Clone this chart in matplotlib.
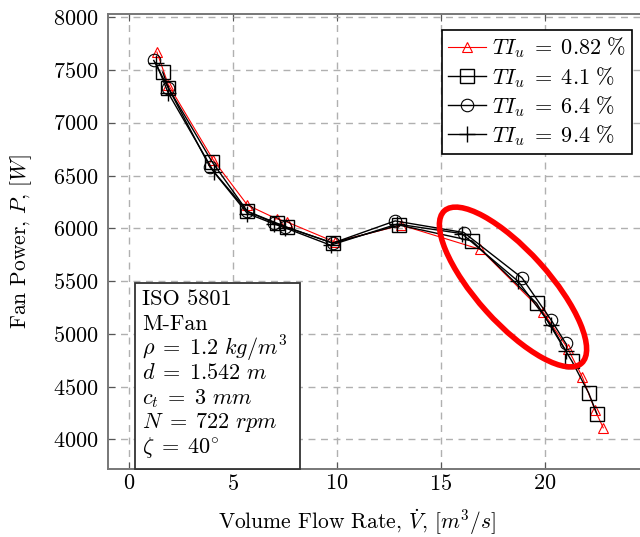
import matplotlib
matplotlib.use('Agg')
import matplotlib.pyplot as plt
from matplotlib.patches import Ellipse, Rectangle

plt.rcParams['font.family'] = 'serif'
plt.rcParams['font.serif'] = ['cmr10', 'DejaVu Serif']
plt.rcParams['mathtext.fontset'] = 'cm'
plt.rcParams['axes.formatter.use_mathtext'] = True

# TI_u = 0.82 %
q_082 = [1.35, 1.9, 4.05, 5.7, 7.1, 7.6, 9.9, 13.1, 16.9, 19.9, 21.1, 21.8, 22.4, 22.8]
p_082 = [7670, 7360, 6650, 6220, 6090, 6060, 5870, 6030, 5800, 5210, 4860, 4590, 4280, 4110]
# TI_u = 4.1 %
q_41 = [1.63, 1.9, 4.0, 5.7, 7.1, 7.6, 9.8, 13.0, 16.5, 19.6, 21.3, 22.1, 22.5]
p_41 = [7480, 7330, 6630, 6160, 6050, 6010, 5860, 6030, 5880, 5290, 4740, 4440, 4240]
# TI_u = 6.4 %
q_64 = [1.2, 1.9, 3.9, 5.7, 7.0, 7.5, 9.8, 12.8, 16.1, 18.9, 20.3, 21.0]
p_64 = [7590, 7330, 6580, 6160, 6050, 6015, 5860, 6070, 5960, 5530, 5130, 4910]
# TI_u = 9.4 %
q_94 = [1.3, 1.9, 4.1, 5.7, 7.0, 7.5, 9.7, 12.9, 16.0, 18.7, 20.3, 21.0]
p_94 = [7570, 7280, 6530, 6140, 6040, 6005, 5840, 6040, 5950, 5500, 5080, 4840]

info_lines = ['ISO 5801', 'M-Fan', r'$\rho\;=\;1.2\ kg/m^3$', r'$d\;=\;1.542\ m$',
              r'$c_t\;=\;3\ mm$', r'$N\;=\;722\ rpm$', r'$\zeta\;=\;40^{\circ}$']

fig = plt.figure(figsize=(6.4, 5.37), dpi=100)
ax = fig.add_axes([108 / 640, 1 - 469 / 537, 541 / 640, 455 / 537])

ax.plot(q_082, p_082, color='red', lw=0.8, marker='^', ms=7, mfc='none', mec='red', mew=0.8,
        label=r'$TI_u\;=\;0.82\ \%$')
ax.plot(q_41, p_41, color='black', lw=1.0, marker='s', ms=10, mfc='none', mew=1.0,
        label=r'$TI_u\;=\;4.1\ \%$')
ax.plot(q_64, p_64, color='black', lw=1.0, marker='o', ms=9, mfc='none', mew=0.8,
        label=r'$TI_u\;=\;6.4\ \%$')
ax.plot(q_94, p_94, color='black', lw=1.0, marker='+', ms=11, mew=1.0,
        label=r'$TI_u\;=\;9.4\ \%$')

ax.set_xlim(-1, 25)
ax.set_ylim(3720, 8030)
ax.set_xticks([0, 5, 10, 15, 20])
ax.set_yticks(range(4000, 8001, 500))
ax.tick_params(direction='in', top=True, right=True, labelsize=16, length=5, color='#555555')
ax.tick_params(axis='y', pad=7)
ax.grid(True, ls=(0, (5, 4)), color='#b0b0b0', lw=1.0)
for s in ax.spines.values():
    s.set_color('#777777')
    s.set_linewidth(1.4)

ax.set_xlabel(r'Volume Flow Rate, $\dot{V}$, $[m^3/s]$', fontsize=15.5)
ax.set_ylabel(r'Fan Power, $P$, $[W]$', fontsize=15.5)
ax.xaxis.set_label_coords(0.46, -0.083)
ax.yaxis.set_label_coords(-0.137, 0.5)

leg = ax.legend(loc='upper right', bbox_to_anchor=((632 - 108) / 541, 1 - 16 / 455),
                fontsize=16, frameon=True, fancybox=False, edgecolor='black',
                handlelength=1.7, borderpad=0.25, labelspacing=0.2, handletextpad=0.3,
                borderaxespad=0)
leg.get_frame().set_linewidth(1.2)
leg.get_frame().set_alpha(1)

# info box
box = Rectangle((135 / 640, 1 - 469 / 537), 165 / 640, 186 / 537, transform=fig.transFigure,
                fill=True, facecolor='white', edgecolor='#333333', lw=1.3, zorder=5)
fig.add_artist(box)
for i, t in enumerate(info_lines):
    fig.text(142 / 640, 1 - (299 + i * 24.8) / 537, t, fontsize=16, va='center', ha='left', zorder=6)

# highlight ellipse
ell = Ellipse((513 / 100, (537 - 287) / 100), 2.05, 0.72, angle=-48,
              transform=fig.dpi_scale_trans, fill=False, edgecolor='red', lw=4, zorder=7)
fig.add_artist(ell)

fig.savefig('out.png', dpi=100)
